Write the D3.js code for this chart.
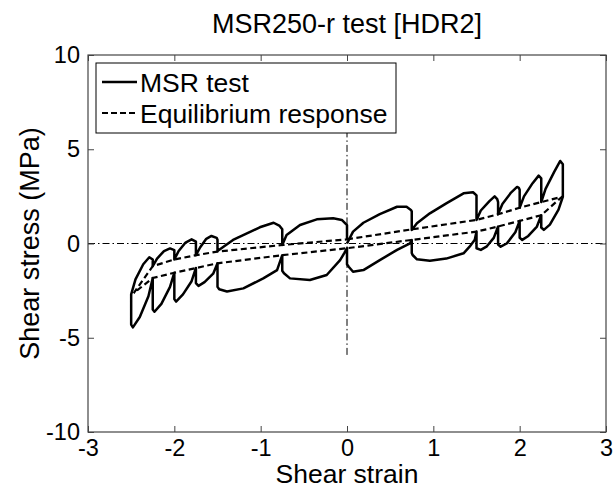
<!DOCTYPE html>
<html lang="en">
<meta charset="utf-8">
<script src='https://d3js.org/d3.v7.min.js'></script>
<style>
    body { margin: 0; background: white; }
    text { font-family: "Liberation Sans", Arial, sans-serif; fill: black; }
    .tick line { stroke: #444; }
</style>
<body>
<svg width=616 height=490></svg>
<script>

    // tick values for both axes
    var xTicks = [-3, -2, -1, 0, 1, 2, 3];
    var yTicks = [-10, -5, 0, 5, 10];

    // MSR test, strain (x) and stress in MPa (y) in test order
    var msrStrain = [
        0, 0.07, 0.19, 0.38, 0.58, 0.69, 0.74, 0.75,
        0.75, 0.81, 0.96, 1.15, 1.35, 1.46, 1.50,
        1.50, 1.55, 1.65, 1.71, 1.74, 1.75,
        1.75, 1.80, 1.90, 1.97, 1.99, 2.00,
        2.00, 2.05, 2.15, 2.22, 2.25,
        2.25, 2.30, 2.40, 2.47, 2.50,
        2.50, 2.45, 2.35, 2.28, 2.25,
        2.25, 2.20, 2.10, 2.03, 2.00,
        2.00, 1.95, 1.85, 1.78, 1.75,
        1.75, 1.70, 1.62, 1.55, 1.50,
        1.50, 1.48, 1.42, 1.35, 1.15, 0.96, 0.81, 0.76, 0.75,
        0.75, 0.73, 0.58, 0.38, 0.19, 0.07, 0.02, 0,
        0, -0.03, -0.08, -0.235, -0.43, -0.66, -0.73, -0.75,
        -0.75, -0.81, -0.97, -1.20, -1.39, -1.48, -1.50,
        -1.50, -1.55, -1.65, -1.72, -1.75,
        -1.75, -1.80, -1.90, -1.98, -2.00,
        -2.00, -2.05, -2.15, -2.23, -2.25,
        -2.25, -2.30, -2.40, -2.48, -2.50,
        -2.50, -2.45, -2.36, -2.29, -2.25,
        -2.25, -2.20, -2.12, -2.05, -2.00,
        -2.00, -1.95, -1.87, -1.80, -1.75,
        -1.75, -1.70, -1.63, -1.57, -1.51, -1.50,
        -1.50, -1.32, -1.01, -0.85, -0.78, -0.75,
        -0.75, -0.70, -0.544, -0.35, -0.16, -0.06, 0,
        0
    ];
    var msrStress = [
        0, 0.63, 1.10, 1.56, 1.95, 1.95, 1.78, 1.70,
        0.72, 1.07, 1.60, 2.13, 2.66, 2.72, 2.55,
        1.25, 1.75, 2.25, 2.50, 2.35, 2.20,
        1.55, 2.10, 2.70, 3.00, 2.95, 2.85,
        1.90, 2.50, 3.20, 3.60, 3.45,
        2.20, 2.90, 3.80, 4.38, 4.20,
        2.48, 1.80, 1.00, 0.72, 0.85,
        1.50, 0.90, 0.40, 0.19, 0.30,
        1.20, 0.60, 0.00, -0.17, -0.05,
        0.90, 0.30, -0.15, -0.34, -0.25,
        0.63, 0.20, -0.17, -0.52, -0.80, -0.91, -0.84, -0.61, -0.50,
        0.19, 0.01, -0.34, -0.88, -1.41, -1.50, -1.23, -1.10,
        -0.25, -0.50, -0.88, -1.67, -1.94, -1.85, -1.58, -1.45,
        -0.62, -1.41, -1.85, -2.38, -2.55, -2.43, -2.30,
        -1.05, -1.60, -2.05, -2.25, -2.10,
        -1.30, -2.00, -2.70, -3.08, -2.95,
        -1.55, -2.30, -3.20, -3.62, -3.50,
        -1.83, -2.80, -3.90, -4.45, -4.30,
        -2.70, -1.90, -1.10, -0.73, -0.85,
        -1.20, -0.80, -0.40, -0.26, -0.35,
        -0.85, -0.40, 0.05, 0.22, 0.10,
        -0.62, -0.20, 0.25, 0.40, 0.30, 0.20,
        -0.40, 0.19, 0.86, 1.10, 0.93, 0.75,
        -0.08, 0.45, 0.98, 1.28, 1.34, 1.25, 0.98,
        0.22
    ];

    // equilibrium response, one closed loop
    var eqStrain = [0, 0.75, 1.50, 1.75, 2.00, 2.25, 2.49,
        2.25, 2.00, 1.75, 1.50, 0.75, 0, -0.75, -1.50, -1.75, -2.00, -2.25, -2.47,
        -2.25, -2.00, -1.75, -1.50, -0.75, 0];
    var eqStress = [0.22, 0.75, 1.25, 1.55, 1.90, 2.20, 2.48,
        1.50, 1.20, 0.90, 0.63, 0.19, -0.25, -0.62, -1.05, -1.30, -1.55, -1.83, -2.63,
        -1.20, -0.85, -0.62, -0.43, -0.08, 0.22];

    // plot box in pixels
    var boxL = 88, boxR = 606, boxT = 55, boxB = 432;

    var x = d3.scaleLinear().domain([-3, 3]).range([boxL, boxR]);
    var y = d3.scaleLinear().domain([-10, 10]).range([boxB, boxT]);

    // plain hyphen minus like the original
    var fmt = function (d) { return String(d); };

    var svg = d3.select("svg");

    // dash-dot zero lines
    svg.append("line")
        .attr("x1", x(-3)).attr("x2", x(3)).attr("y1", y(0)).attr("y2", y(0))
        .attr("stroke", "black").attr("stroke-width", 1)
        .attr("stroke-dasharray", "7,3,1.5,3");
    svg.append("line")
        .attr("x1", x(0)).attr("x2", x(0)).attr("y1", y(6)).attr("y2", y(-6))
        .attr("stroke", "black").attr("stroke-width", 1)
        .attr("stroke-dasharray", "7,3,1.5,3");

    var line = d3.line()
        .x(function (d) { return x(d[0]); })
        .y(function (d) { return y(d[1]); });

    var msr = msrStrain.map(function (v, i) { return [v, msrStress[i]]; });
    var eq = eqStrain.map(function (v, i) { return [v, eqStress[i]]; });

    svg.append("path").datum(msr)
        .attr("d", line)
        .attr("fill", "none").attr("stroke", "black")
        .attr("stroke-width", 2.5).attr("stroke-linejoin", "round");

    svg.append("path").datum(eq)
        .attr("d", line)
        .attr("fill", "none").attr("stroke", "black")
        .attr("stroke-width", 2.2).attr("stroke-dasharray", "6,3.5");

    // axes, inward ticks on all four sides
    svg.append("g")
        .attr("transform", "translate(0," + boxB + ")")
        .call(d3.axisBottom(x).tickValues(xTicks).tickFormat(fmt).tickSize(-6).tickPadding(7))
        .call(function (g) { g.select(".domain").remove(); })
        .selectAll("text").style("font-size", "23.5px").attr("fill", "black");
    svg.append("g")
        .attr("transform", "translate(0," + boxT + ")")
        .call(d3.axisTop(x).tickValues(xTicks).tickSize(-6).tickFormat(""))
        .call(function (g) { g.select(".domain").remove(); });
    svg.append("g")
        .attr("transform", "translate(" + boxL + ",0)")
        .call(d3.axisLeft(y).tickValues(yTicks).tickFormat(fmt).tickSize(-6).tickPadding(8))
        .call(function (g) { g.select(".domain").remove(); })
        .selectAll("text").style("font-size", "23.5px").attr("fill", "black");
    svg.append("g")
        .attr("transform", "translate(" + boxR + ",0)")
        .call(d3.axisRight(y).tickValues(yTicks).tickSize(-6).tickFormat(""))
        .call(function (g) { g.select(".domain").remove(); });

    svg.append("rect")
        .attr("x", boxL).attr("y", boxT)
        .attr("width", boxR - boxL).attr("height", boxB - boxT)
        .attr("fill", "none").attr("stroke", "#444").attr("stroke-width", 1.2);

    // title and axis labels
    svg.append("text")
        .attr("x", x(0)).attr("y", 33)
        .attr("text-anchor", "middle").style("font-size", "27px")
        .text("MSR250-r test [HDR2]");
    svg.append("text")
        .attr("x", x(0)).attr("y", 483)
        .attr("text-anchor", "middle").style("font-size", "26.5px")
        .text("Shear strain");
    svg.append("text")
        .attr("transform", "translate(39," + y(0) + ") rotate(-90)")
        .attr("text-anchor", "middle").style("font-size", "27px")
        .text("Shear stress (MPa)");

    // legend
    var legend = svg.append("g");
    legend.append("rect")
        .attr("x", 96).attr("y", 63).attr("width", 300).attr("height", 70)
        .attr("fill", "white").attr("stroke", "black").attr("stroke-width", 1);
    legend.append("line")
        .attr("x1", 102).attr("x2", 137).attr("y1", 82).attr("y2", 82)
        .attr("stroke", "black").attr("stroke-width", 2.5);
    legend.append("line")
        .attr("x1", 102).attr("x2", 137).attr("y1", 113).attr("y2", 113)
        .attr("stroke", "black").attr("stroke-width", 2.2).attr("stroke-dasharray", "6,3");
    legend.append("text")
        .attr("x", 140).attr("y", 92).style("font-size", "26.5px")
        .text("MSR test");
    legend.append("text")
        .attr("x", 140).attr("y", 123).style("font-size", "26.5px")
        .text("Equilibrium response");

</script>
</body>
</html>
